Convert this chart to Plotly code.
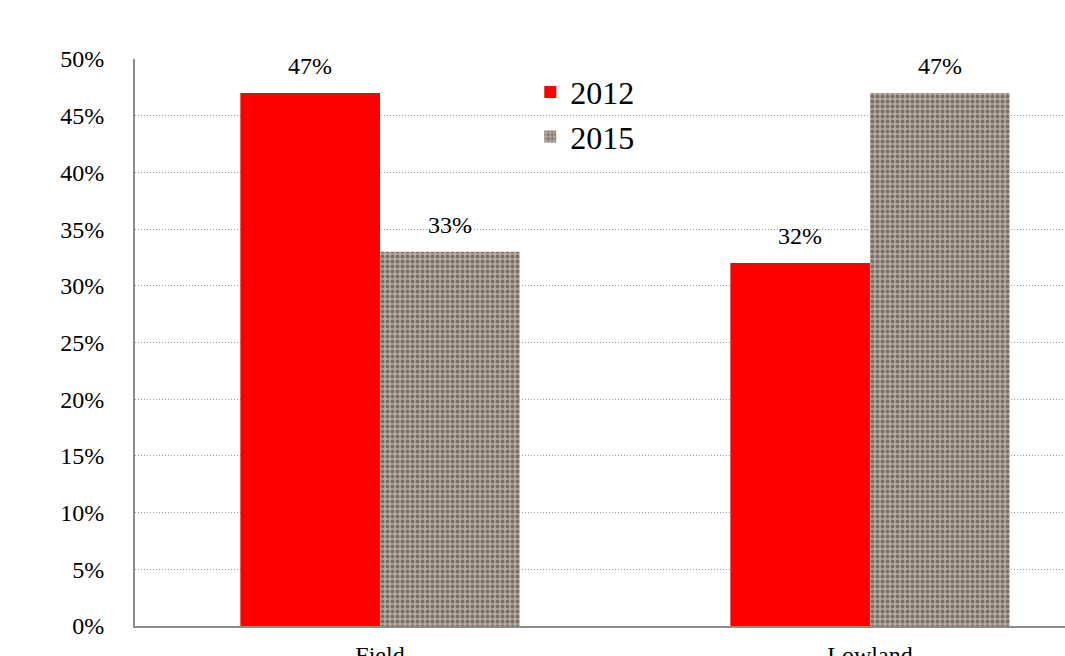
import plotly.graph_objects as go

categories = ["Field", "Lowland"]
years = ["2012", "2015"]
values_2012 = [0.47, 0.32]
values_2015 = [0.33, 0.47]
y_ticks = [0, 0.05, 0.10, 0.15, 0.20, 0.25, 0.30, 0.35, 0.40, 0.45, 0.50]

font_family = "Liberation Serif, Times New Roman, serif"

fig = go.Figure()
fig.add_trace(go.Bar(
    name=years[0], x=categories, y=values_2012,
    marker=dict(color="#ff0000", line=dict(width=0)),
    offsetgroup="a",
))
fig.add_trace(go.Bar(
    name=years[1], x=categories, y=values_2015,
    marker=dict(color="#a99d93", line=dict(width=0),
                pattern=dict(shape=".", fgcolor="#7a6e66", bgcolor="#b6aba1",
                             size=5, solidity=0.45)),
    offsetgroup="b",
))

# value labels above bars (positions from data via axis scales)
bar_offset = 0.1428
for i, cat in enumerate(categories):
    for vals, dx in ((values_2012, -bar_offset), (values_2015, bar_offset)):
        fig.add_annotation(
            x=i + dx, y=vals[i], xref="x", yref="y",
            text=f"{round(vals[i] * 100)}%", showarrow=False,
            yanchor="bottom", yshift=12,
            font=dict(family=font_family, size=24, color="#000000"),
        )

fig.update_layout(
    template="none",
    width=1065, height=656,
    margin=dict(l=135, r=0, t=59, b=30),
    paper_bgcolor="#ffffff", plot_bgcolor="#ffffff",
    barmode="group", bargap=0.43, bargroupgap=0,
    font=dict(family=font_family, color="#000000"),
    showlegend=True,
    legend=dict(x=0.425, y=0.99, xanchor="left", yanchor="top",
                font=dict(family=font_family, size=32, color="#000000"),
                bgcolor="rgba(0,0,0,0)", itemwidth=30, tracegroupgap=0),
)
fig.update_xaxes(
    range=[-0.5, 1.398], automargin=False,
    showgrid=False, zeroline=False,
    showline=True, linecolor="#8c8c8c", linewidth=2,
    ticks="", ticklabelstandoff=6,
    tickfont=dict(family=font_family, size=24, color="#000000"),
)
fig.update_yaxes(
    range=[0, 0.5], automargin=False,
    tickvals=y_ticks, tickformat=".0%",
    showgrid=True, gridcolor="#9a9a9a", gridwidth=1, griddash="1px,2px",
    zeroline=False,
    showline=True, linecolor="#8c8c8c", linewidth=2,
    ticks="", ticklabelstandoff=24,
    tickfont=dict(family=font_family, size=24, color="#000000"),
)

fig.write_html("out.html")
